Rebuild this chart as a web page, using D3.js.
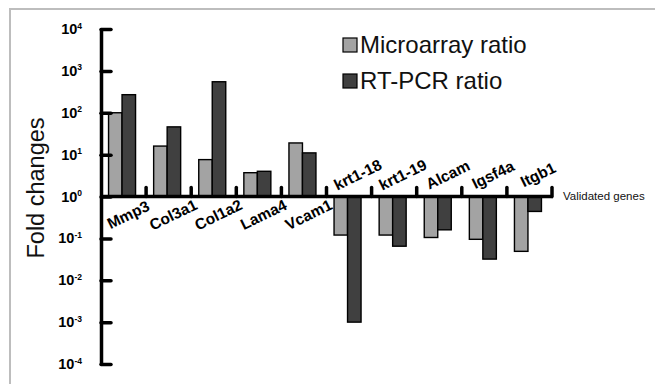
<!DOCTYPE html>
<html>
<head>
<meta charset="utf-8">
<script src="https://cdn.jsdelivr.net/npm/d3@7"></script>
<style>
  body { margin: 0; background: #fff; }
  svg { display: block; font-family: Arial, "Liberation Sans", sans-serif; }
</style>
</head>
<body>
<svg id="chart" width="655" height="384"></svg>
<script>
// data
const genes = ['Mmp3', 'Col3a1', 'Col1a2', 'Lama4', 'Vcam1', 'krt1-18', 'krt1-19', 'Alcam', 'Igsf4a', 'Itgb1'];
const microarray = [100, 16, 7.6, 3.7, 19, 0.12, 0.12, 0.105, 0.095, 0.049];
const rtpcr = [270, 46, 550, 4.0, 11, 0.001, 0.065, 0.16, 0.032, 0.44];
const exponents = [4, 3, 2, 1, 0, -1, -2, -3, -4];
const seriesNames = ['Microarray ratio', 'RT-PCR ratio'];
const seriesColors = ['#a3a3a3', '#404040'];

const svg = d3.select('#chart');

// outer frame
svg.append('rect')
  .attr('x', 10).attr('y', 9)
  .attr('width', 660).attr('height', 400)
  .attr('fill', 'none')
  .attr('stroke', '#bdbdbd')
  .attr('stroke-width', 2);

const y = d3.scaleLog().domain([1e-4, 1e4]).range([364, 29]);
const x = d3.scaleBand().domain(genes).range([101, 552]).padding(0);
const barW = 13.5;

// bars
const rows = genes.map((g, i) => ({ gene: g, vals: [microarray[i], rtpcr[i]] }));
rows.forEach(function(row) {
  const cx = x(row.gene) + x.bandwidth() / 2 - 1.5;
  row.vals.forEach(function(v, k) {
    const top = Math.min(y(v), y(1));
    const h = Math.abs(y(v) - y(1));
    svg.append('rect')
      .attr('x', cx - barW + k * barW)
      .attr('y', top)
      .attr('width', barW)
      .attr('height', h)
      .attr('fill', seriesColors[k])
      .attr('stroke', '#000')
      .attr('stroke-width', 1.4);
  });
});

// y axis (ticks pointing inward)
const yAxis = svg.append('g')
  .attr('transform', 'translate(101,0)')
  .call(d3.axisRight(y)
    .tickValues(exponents.map(e => Math.pow(10, e)))
    .tickSize(10)
    .tickSizeOuter(0)
    .tickFormat(''));
yAxis.select('.domain').attr('stroke-width', 3.5);
yAxis.selectAll('.tick line').attr('stroke-width', 3.5).attr('stroke-linecap', 'round');

// y tick labels with superscript exponents
exponents.forEach(function(e) {
  const t = svg.append('text')
    .attr('x', 82)
    .attr('y', y(Math.pow(10, e)) + 5)
    .attr('text-anchor', 'end')
    .attr('font-weight', 'bold')
    .attr('font-size', 14.5);
  t.append('tspan').text('10');
  t.append('tspan')
    .attr('font-size', 8.5)
    .attr('dy', -5.5)
    .text(e);
});

// x axis line with small upward ticks at group boundaries
const y0 = y(1);
svg.append('line')
  .attr('x1', 100).attr('x2', 553)
  .attr('y1', y0).attr('y2', y0)
  .attr('stroke', '#000')
  .attr('stroke-width', 3.5);
svg.selectAll('.xtick')
  .data(genes)
  .enter()
  .append('line')
  .attr('class', 'xtick')
  .attr('x1', d => x(d) + x.bandwidth())
  .attr('x2', d => x(d) + x.bandwidth())
  .attr('y1', y0)
  .attr('y2', y0 - 9)
  .attr('stroke', '#000')
  .attr('stroke-width', 3.5)
  .attr('stroke-linecap', 'round');

// gene labels: below axis for up, above for down
rows.forEach(function(row) {
  const up = row.vals[0] >= 1;
  const cx = x(row.gene) + x.bandwidth() / 2 + (up ? 7 : 11);
  const cy = up ? y0 + 23 : y0 - 17;
  svg.append('text')
    .attr('transform', `translate(${cx},${cy}) rotate(-26)`)
    .attr('text-anchor', 'middle')
    .attr('font-weight', 'bold')
    .attr('font-size', 15.5)
    .text(row.gene);
});

svg.append('text')
  .attr('x', 563)
  .attr('y', y0 + 3)
  .attr('font-size', 11.5)
  .attr('fill', '#111')
  .text('Validated genes');

// y axis title
svg.append('text')
  .attr('transform', 'translate(44,188) rotate(-90)')
  .attr('text-anchor', 'middle')
  .attr('font-size', 23.5)
  .attr('fill', '#111')
  .text('Fold changes');

// legend
seriesNames.forEach(function(name, k) {
  const ly = 38 + k * 36;
  svg.append('rect')
    .attr('x', 343).attr('y', ly)
    .attr('width', 14).attr('height', 14)
    .attr('fill', seriesColors[k])
    .attr('stroke', '#000')
    .attr('stroke-width', 1.2);
  svg.append('text')
    .attr('x', 360)
    .attr('y', ly + 15)
    .attr('font-size', 24)
    .attr('fill', '#111')
    .text(name);
});
</script>
</body>
</html>
